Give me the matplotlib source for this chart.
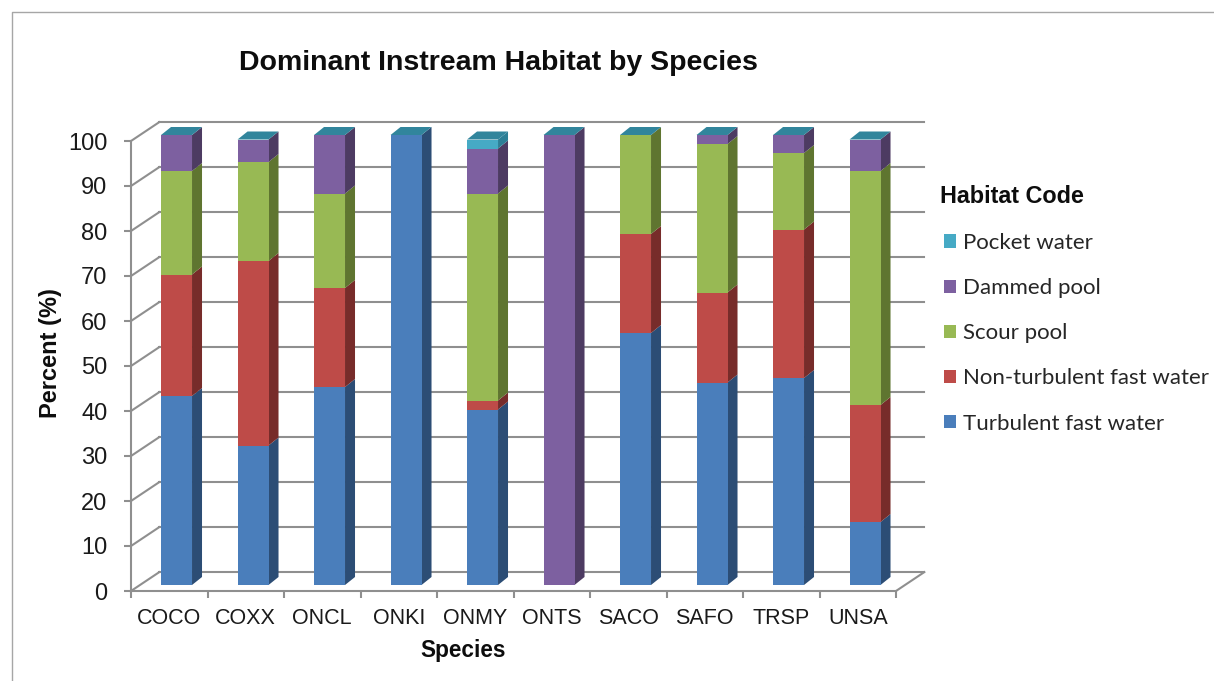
import matplotlib
matplotlib.use('Agg')
import matplotlib.pyplot as plt
from matplotlib.patches import Patch, Polygon
from matplotlib.lines import Line2D
from matplotlib.transforms import Affine2D

W, H = 1214, 681

species = ['COCO', 'COXX', 'ONCL', 'ONKI', 'ONMY', 'ONTS', 'SACO', 'SAFO', 'TRSP', 'UNSA']
turbulent = [42, 31, 44, 100, 39, 0, 56, 45, 46, 14]
non_turbulent = [27, 41, 22, 0, 2, 0, 22, 20, 33, 26]
scour = [23, 22, 21, 0, 46, 0, 22, 33, 17, 52]
dammed = [8, 5, 13, 0, 10, 100, 0, 2, 4, 7]
pocket = [0, 0, 0, 0, 2, 0, 0, 0, 0, 0]

series = [turbulent, non_turbulent, scour, dammed, pocket]
names = ['Turbulent fast water', 'Non-turbulent fast water', 'Scour pool', 'Dammed pool', 'Pocket water']
front = ['#4a7ebb', '#be4b48', '#98b954', '#7d60a0', '#46aac5']
side = ['#2c4d75', '#772c2a', '#5f7530', '#4d3b62', '#2c7f96']
top_color = '#31859c'
line_gray = '#8f8f8f'
arial = 'Liberation Sans'

fig = plt.figure(figsize=(W / 100, H / 100), dpi=100)
ax = fig.add_axes([131 / W, (H - 591) / H, 765 / W, 450 / H])
ax.set_xlim(0, 10)
ax.set_ylim(0, 100)
ax.patch.set_alpha(0)

wall = ax.transData + Affine2D().translate(28, 19)
bar_shift = ax.transData + Affine2D().translate(9, 6)

# back wall grid and the slanted bits on the left
for v in range(0, 101, 10):
    ax.plot([0, 10], [v, v], color=line_gray, lw=1.5, transform=wall, clip_on=False, zorder=1)
    ax.plot([0, 0.37], [v, v + 4.2], color=line_gray, lw=1.5, clip_on=False, zorder=1)
ax.plot([10, 10.37], [0, 4.2], color=line_gray, lw=1.5, clip_on=False, zorder=1)

bar_w = 0.405
bar_x = [i + 0.275 for i in range(len(species))]
dx = 10 / 76.5
dy = 8 / 4.5

bottom = [0] * len(species)
for vals, c, sc in zip(series, front, side):
    for i, v in enumerate(vals):
        if v == 0:
            continue
        r = bar_x[i] + bar_w
        b = bottom[i]
        ax.add_patch(Polygon([(r, b), (r + dx, b + dy), (r + dx, b + v + dy), (r, b + v)],
                             facecolor=sc, edgecolor='none', transform=bar_shift, clip_on=False, zorder=3))
    ax.bar(bar_x, vals, bar_w, bottom=bottom, align='edge', color=c, transform=bar_shift,
           clip_on=False, zorder=4)
    bottom = [a + b for a, b in zip(bottom, vals)]

for x0, t in zip(bar_x, bottom):
    ax.add_patch(Polygon([(x0, t), (x0 + bar_w, t), (x0 + bar_w + dx, t + dy), (x0 + dx, t + dy)],
                         facecolor=top_color, edgecolor='none', transform=bar_shift, clip_on=False, zorder=5))

ax.set_xlim(0, 10)
ax.set_ylim(0, 100)

for s in ['top', 'right']:
    ax.spines[s].set_visible(False)
for s in ['left', 'bottom']:
    ax.spines[s].set_color(line_gray)
    ax.spines[s].set_linewidth(1.5)

ax.set_yticks(range(0, 101, 10))
ax.set_xticks(range(0, 11))
ax.set_xticklabels([])
ax.set_xticks([i + 0.5 for i in range(len(species))], minor=True)
ax.set_xticklabels(species, minor=True, fontfamily=arial, fontsize=15.5, color='#1a1a1a')
ax.tick_params(axis='x', which='major', length=5, width=1.5, color=line_gray)
ax.tick_params(axis='x', which='minor', length=0, pad=12)
ax.tick_params(axis='y', length=5, width=1.5, color=line_gray, pad=12, labelsize=17, labelcolor='#1a1a1a')
for lab in ax.get_yticklabels():
    lab.set_fontfamily(arial)

fig.text(498 / W, 1 - 62.5 / H, 'Dominant Instream Habitat by Species', fontfamily=arial, fontsize=20.5,
         fontweight='bold', ha='center', va='center', color='#0d0d0d')
fig.text(463 / W, 1 - 651 / H, 'Species', fontfamily=arial, fontsize=16.3, fontweight='bold',
         ha='center', va='center', color='#0d0d0d')
fig.text(51 / W, 1 - 353 / H, 'Percent (%)', fontfamily=arial, fontsize=17, fontweight='bold',
         rotation=90, ha='center', va='center', color='#0d0d0d')

handles = [Patch(facecolor=c, edgecolor='none') for c in front[::-1]]
leg = fig.legend(handles, names[::-1], loc='upper left', bbox_to_anchor=(924 / W, 1 - 165 / H),
                 frameon=False, title='Habitat Code', alignment='left', handlelength=0.56, handleheight=0.56,
                 handletextpad=0.3, labelspacing=1.13,
                 prop={'family': 'Lato', 'size': 16},
                 title_fontproperties={'family': arial, 'weight': 'bold', 'size': 16.8})
leg.get_title().set_color('#0d0d0d')
leg.get_title().set_position((-4, 0))
for t in leg.get_texts():
    t.set_color('#262626')

# outer frame of the chart
fig.add_artist(Line2D([12 / W, 12 / W, 1], [0, 1 - 12 / H, 1 - 12 / H], color='#a6a6a6', lw=1))

fig.savefig('out.png', dpi=100)
